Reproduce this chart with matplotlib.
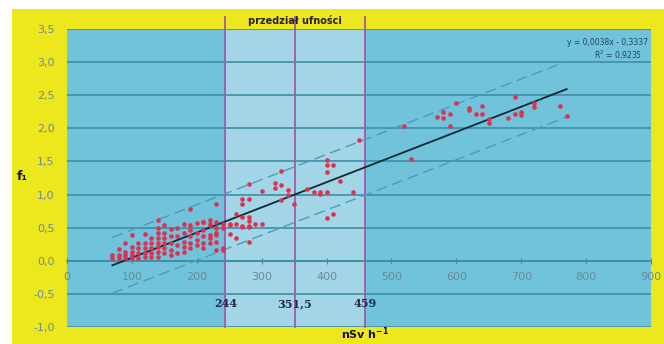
import matplotlib
matplotlib.use("Agg")
import matplotlib.pyplot as plt
from matplotlib.patches import Rectangle
import matplotlib.transforms as mtransforms

# ---------------- data ----------------
pts_x = [
    70, 70,
    80, 80, 80,
    90, 90, 90, 90,
    100, 100, 100, 100, 100,
    110, 110, 110, 110,
    120, 120, 120, 120, 120,
    130, 130, 130, 130, 130,
    140, 140, 140, 140, 140, 140, 140, 140,
    150, 150, 150, 150, 150, 150,
    160, 160, 160, 160, 160,
    170, 170, 170, 170,
    180, 180, 180, 180, 180,
    190, 190, 190, 190, 190, 190,
    200, 200, 200, 200,
    210, 210, 210, 210, 210, 210,
    220, 220, 220, 220, 220, 220,
    230, 230, 230, 230, 230, 230, 230,
    240, 240, 240, 240,
    251, 251, 251, 260, 260, 261,
    270, 270, 270, 270, 270,
    280, 280, 280, 280, 280, 280, 280,
    290, 300, 300,
    320, 320, 330, 330, 330, 340, 341, 350,
    370, 380, 390, 390, 400, 400, 400, 400, 410, 420, 440,
    400, 410, 450,
    520, 530,
    570, 580, 580, 590, 590, 600,
    620, 620, 630, 640, 640, 650, 650,
    680, 690, 690, 700, 700, 720, 720, 760, 770,
]
pts_y = [
    0.09, 0.04,
    0.18, 0.09, 0.04,
    0.27, 0.14, 0.09, 0.04,
    0.39, 0.21, 0.14, 0.09, 0.04,
    0.27, 0.19, 0.11, 0.04,
    0.40, 0.27, 0.19, 0.11, 0.06,
    0.34, 0.27, 0.19, 0.11, 0.06,
    0.61, 0.49, 0.42, 0.34, 0.27, 0.21, 0.14, 0.06,
    0.54, 0.42, 0.34, 0.27, 0.19, 0.11,
    0.48, 0.37, 0.27, 0.17, 0.09,
    0.49, 0.37, 0.24, 0.11,
    0.56, 0.42, 0.29, 0.21, 0.14,
    0.78, 0.54, 0.47, 0.37, 0.27, 0.19,
    0.57, 0.42, 0.32, 0.24,
    0.59, 0.47, 0.37, 0.27, 0.19, 0.59,
    0.62, 0.56, 0.39, 0.34, 0.27, 0.54,
    0.86, 0.59, 0.50, 0.39, 0.29, 0.16, 0.42,
    0.55, 0.50, 0.20, 0.16,
    0.54, 0.40, 0.56, 0.56, 0.70, 0.35,
    0.94, 0.85, 0.66, 0.51, 0.52,
    1.16, 0.94, 0.66, 0.60, 0.51, 0.52, 0.29,
    0.56, 0.56, 1.06,
    1.17, 1.10, 1.35, 1.15, 0.92, 1.07, 1.00, 0.86,
    1.09, 1.04, 1.04, 1.01, 1.04, 1.52, 1.45, 1.34, 1.45, 1.20, 1.04,
    0.65, 0.70, 1.83,
    2.04, 1.54,
    2.17, 2.25, 2.16, 2.22, 2.03, 2.38,
    2.31, 2.27, 2.22, 2.33, 2.22, 2.14, 2.08,
    2.16, 2.47, 2.22, 2.25, 2.20, 2.38, 2.32, 2.34, 2.19,
]
slope = 0.0038
intercept = -0.3337
band = 0.42
fit_range = [70, 770]
interval = [244, 351.5, 459]
interval_labels = ["244", "351,5", "459"]
xticks = [0, 100, 200, 300, 400, 500, 600, 700, 800, 900]
yticks = [-1.0, -0.5, 0.0, 0.5, 1.0, 1.5, 2.0, 2.5, 3.0, 3.5]

# ---------------- style ----------------
W, H = 664, 344
YELLOW = "#ede81e"
BG = "#70c3db"
BG_LIGHT = "#a2d6e7"
GRID = "#3d8ea6"
VLINE = "#a05aab"
PT = "#e0304f"
TICKC = "#6a8a98"
DASHC = "#4a9db5"

fig = plt.figure(figsize=(W / 100, H / 100), dpi=100, facecolor="white")
fig.patches.append(Rectangle((12 / W, 0), 1 - 12 / W, 1 - 9 / H,
                             transform=fig.transFigure, facecolor=YELLOW,
                             edgecolor="none", zorder=-10))

L, R, T, B = 67, 651, 29, 327
ax = fig.add_axes([L / W, (H - B) / H, (R - L) / W, (B - T) / H])
ax.set_facecolor(BG)
ax.set_xlim(0, 900)
ax.set_ylim(-1.0, 3.5)

for s in ["top", "right", "left"]:
    ax.spines[s].set_visible(False)
ax.spines["bottom"].set_position(("data", 0))
ax.spines["bottom"].set_color(GRID)
ax.spines["bottom"].set_linewidth(1.2)

# shaded confidence region
ax.axvspan(interval[0], interval[2], color=BG_LIGHT, zorder=0, lw=0)

# horizontal gridlines
for yv in yticks:
    ax.axhline(yv, color=GRID, lw=1.2, zorder=1)

# vertical interval lines
trans = mtransforms.blended_transform_factory(ax.transData, ax.transAxes)
top_ext = (B - 17) / (B - T)
for xv in interval:
    ax.plot([xv, xv], [0, top_ext], transform=trans, color=VLINE, lw=1.3,
            clip_on=False, zorder=2)
for xv, lab in zip(interval, interval_labels):
    ax.text(xv, -0.65, lab, ha="center", va="center", fontsize=8,
            fontweight="bold", family="DejaVu Serif", color="#1e2a40")

ax.text((interval[0] + interval[2]) / 2, 1 + 9 / (B - T), "przedział ufności",
        transform=trans, ha="center", va="center", fontsize=7,
        fontweight="bold", color="#222222")

# regression + bands
fx = fit_range
fy = [slope * v + intercept for v in fx]
ax.plot(fx, fy, color="#102a30", lw=1.3, zorder=4)
ax.plot(fx, [v + band for v in fy], color=DASHC, lw=1.0, ls=(0, (8, 4)), zorder=3)
ax.plot(fx, [v - band for v in fy], color=DASHC, lw=1.0, ls=(0, (8, 4)), zorder=3)

ax.scatter(pts_x, pts_y, s=11, color=PT, zorder=5, linewidths=0)

# ticks
ax.set_xticks(xticks)
ax.set_xticklabels([str(v) for v in xticks], color=TICKC, fontsize=8)
ax.tick_params(axis="x", direction="inout", length=4, color=GRID, pad=6)
ax.set_yticks(yticks)
ax.set_yticklabels([f"{v:.1f}".replace(".", ",") for v in yticks],
                   color=TICKC, fontsize=8)
ax.tick_params(axis="y", length=0, pad=9)

# equation
ax.text(0.995, 0.97, "y = 0,0038x - 0,3337", transform=ax.transAxes,
        ha="right", va="top", fontsize=5.5, color="#24445a")
ax.text(0.943, 0.935, "R$^2$ = 0,9235", transform=ax.transAxes,
        ha="center", va="top", fontsize=5.5, color="#24445a")

# axis labels
fig.text(22 / W, 1 - 176 / H, "f₁", ha="center", va="center",
         fontsize=9, fontweight="bold", color="#111111")
fig.text(365 / W, 2 / H, r"$\mathbf{nSv\ h^{-1}}$", ha="center",
         va="bottom", fontsize=8, color="#111111")

fig.savefig("out.png", dpi=100, facecolor=fig.get_facecolor())
